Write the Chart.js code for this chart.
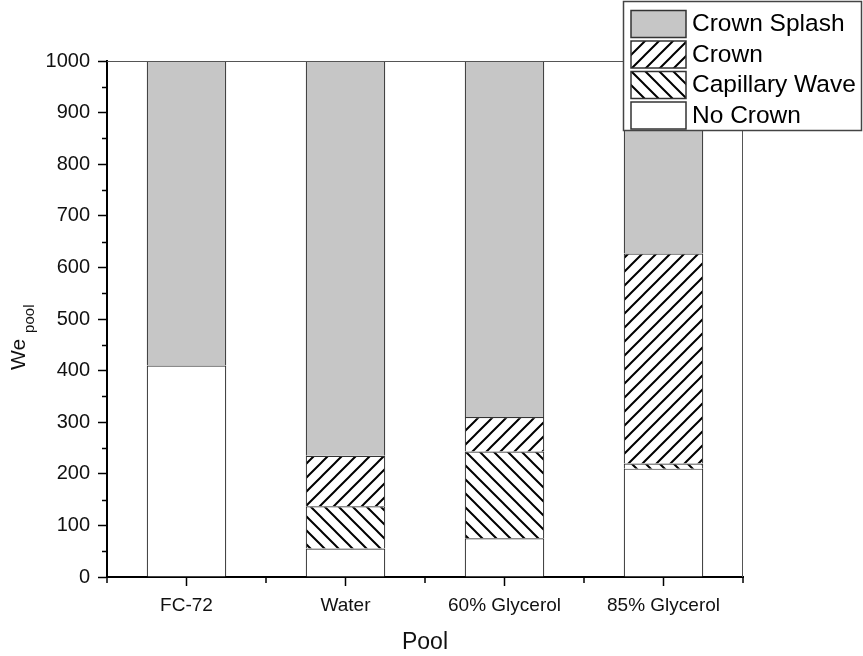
<!DOCTYPE html>
<html>
<head>
<meta charset="utf-8">
<title>We pool regimes</title>
<script src="https://cdn.jsdelivr.net/npm/chart.js@4.4.0/dist/chart.umd.min.js"></script>
<style>
  html, body { margin: 0; padding: 0; background: #fff; }
  #wrap { width: 863px; height: 656px; }
</style>
</head>
<body>
<div id="wrap"><canvas id="regimeChart" width="863" height="656"></canvas></div>
<script>
// Data
var pools = ['FC-72', 'Water', '60% Glycerol', '85% Glycerol'];
var noCrown = [410, 55, 75, 210];
var capillaryWave = [0, 82, 168, 10];
var crown = [0, 98, 67, 407];
var crownSplash = [590, 765, 690, 373];
var yMin = 0, yMax = 1000, yStep = 100;

var FONT = '"Liberation Sans", Arial, Helvetica, sans-serif';
Chart.defaults.font.family = FONT;
Chart.defaults.color = '#111';

// hatch patterns, '/' for Crown and '\' for Capillary Wave
function hatch(dir) {
    var s = 14;
    var c = document.createElement('canvas');
    c.width = s; c.height = s;
    var g = c.getContext('2d');
    g.fillStyle = '#fff';
    g.fillRect(0, 0, s, s);
    g.strokeStyle = '#000';
    g.lineWidth = 2;
    g.beginPath();
    if (dir === '/') {
        g.moveTo(-1, s + 1); g.lineTo(s + 1, -1);
        g.moveTo(-2, 2); g.lineTo(2, -2);
        g.moveTo(s - 2, s + 2); g.lineTo(s + 2, s - 2);
    } else {
        g.moveTo(-1, -1); g.lineTo(s + 1, s + 1);
        g.moveTo(-2, s - 2); g.lineTo(2, s + 2);
        g.moveTo(s - 2, -2); g.lineTo(s + 2, 2);
    }
    g.stroke();
    return g.createPattern(c, 'repeat');
}

var ctx = document.getElementById('regimeChart').getContext('2d');
var slashFill = hatch('/');
var backFill = hatch('\\');

// frame, minor ticks and the y title with subscript
var extras = {
    id: 'extras',
    afterDatasetsDraw: function (chart) {
        var c = chart.ctx, a = chart.chartArea;
        var x = chart.scales.x, y = chart.scales.y;
        c.save();
        // top and right frame
        c.strokeStyle = '#555';
        c.lineWidth = 1;
        c.beginPath();
        c.moveTo(a.left, a.top + 0.5); c.lineTo(a.right, a.top + 0.5);
        c.moveTo(a.right - 0.5, a.top); c.lineTo(a.right - 0.5, a.bottom);
        c.stroke();
        // minor ticks
        c.strokeStyle = '#000';
        c.lineWidth = 1.5;
        c.beginPath();
        for (var v = yMin + yStep / 2; v < yMax; v += yStep) {
            var py = Math.round(y.getPixelForValue(v)) + 0.5;
            c.moveTo(a.left - 5, py); c.lineTo(a.left, py);
        }
        var half = (x.getPixelForValue(1) - x.getPixelForValue(0)) / 2;
        for (var i = 0; i <= pools.length; i++) {
            var px = x.getPixelForValue(0) - half + i * 2 * half;
            c.moveTo(px, a.bottom); c.lineTo(px, a.bottom + 6);
        }
        c.stroke();
        // y title: We_pool
        c.fillStyle = '#111';
        c.translate(25, 370);
        c.rotate(-Math.PI / 2);
        c.textBaseline = 'alphabetic';
        c.font = '21px ' + FONT;
        c.fillText('We', 0, 0);
        var w = c.measureText('We').width;
        c.font = '15px ' + FONT;
        c.fillText('pool', w + 6, 9);
        c.restore();
    }
};

// legend in a box over the top right corner
var legendBox = {
    id: 'legendBox',
    afterDraw: function (chart) {
        var c = chart.ctx;
        var items = chart.data.datasets.slice().reverse();
        var x0 = 623.5, y0 = 1.5, w = 238, h = 129;
        c.save();
        c.fillStyle = '#fff';
        c.fillRect(x0, y0, w, h);
        c.strokeStyle = '#444';
        c.lineWidth = 1.5;
        c.strokeRect(x0, y0, w, h);
        items.forEach(function (ds, i) {
            var sy = 10.5 + i * 30.5;
            c.fillStyle = ds.backgroundColor;
            c.fillRect(631, sy, 55, 27);
            c.strokeStyle = '#333';
            c.strokeRect(631, sy, 55, 27);
            c.fillStyle = '#000';
            c.font = '24.5px ' + FONT;
            c.textBaseline = 'middle';
            c.fillText(ds.label, 692, sy + 14);
        });
        c.restore();
    }
};

// bottom edge skipped so stacked segments share one line; no outline for empty ones
var barStyle = {
    borderColor: '#333',
    borderWidth: function (c) { return c.raw ? 1.2 : 0; },
    borderSkipped: 'start'
};

var regimeChart = new Chart(ctx, {
    type: 'bar',
    data: {
        labels: pools,
        datasets: [
            Object.assign({ label: 'No Crown', data: noCrown, backgroundColor: '#ffffff' }, barStyle),
            Object.assign({ label: 'Capillary Wave', data: capillaryWave, backgroundColor: backFill }, barStyle),
            Object.assign({ label: 'Crown', data: crown, backgroundColor: slashFill }, barStyle),
            Object.assign({ label: 'Crown Splash', data: crownSplash, backgroundColor: '#c6c6c6' }, barStyle)
        ]
    },
    options: {
        responsive: false,
        animation: false,
        devicePixelRatio: 1,
        categoryPercentage: 0.5,
        barPercentage: 1.0,
        layout: { padding: { top: 61, right: 120, left: 0, bottom: 0 } },
        plugins: {
            legend: { display: false },
            tooltip: { enabled: false }
        },
        scales: {
            x: {
                stacked: true,
                offset: true,
                grid: { drawOnChartArea: false, offset: false, tickLength: 9, tickColor: '#000', tickWidth: 1.5 },
                border: { color: '#000', width: 2 },
                ticks: { font: { size: 19 }, color: '#111', padding: 8, maxRotation: 0 },
                title: { display: true, text: 'Pool', font: { size: 23 }, color: '#111', padding: { top: 0, bottom: 0 } },
                afterFit: function (s) { s.height = 79; }
            },
            y: {
                stacked: true,
                min: yMin,
                max: yMax,
                grid: { drawOnChartArea: false, tickLength: 9, tickColor: '#000', tickWidth: 1.5 },
                border: { color: '#000', width: 2 },
                ticks: {
                    stepSize: yStep, font: { size: 20 }, color: '#111', padding: 8,
                    callback: function (value) { return String(value); }
                },
                afterFit: function (s) { s.width = 107; }
            }
        }
    },
    plugins: [extras, legendBox]
});
</script>
</body>
</html>
